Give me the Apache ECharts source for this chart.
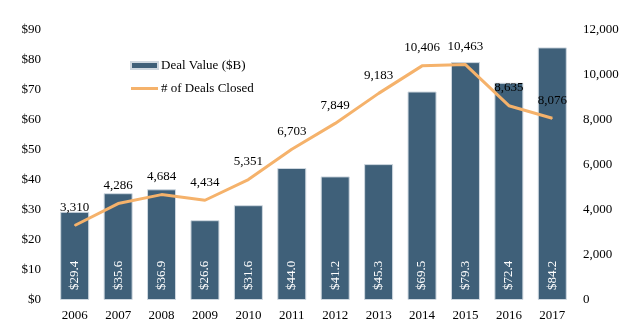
<!DOCTYPE html>
<html><head><meta charset="utf-8">
<script src="https://cdn.jsdelivr.net/npm/echarts@6/dist/echarts.min.js"></script>
<style>html,body{margin:0;padding:0;background:#fff}#c{width:630px;height:327px}</style>
</head><body><div id="c"></div>
<script>
var years = ['2006','2007','2008','2009','2010','2011','2012','2013','2014','2015','2016','2017'];
var dealValue = [29.4, 35.6, 36.9, 26.6, 31.6, 44.0, 41.2, 45.3, 69.5, 79.3, 72.4, 84.2];
var dealsClosed = [3310, 4286, 4684, 4434, 5351, 6703, 7849, 9183, 10406, 10463, 8635, 8076];
var font = 'Liberation Serif, Times New Roman, serif';
var chart = echarts.init(document.getElementById('c'));
chart.setOption({
  animation: false,
  backgroundColor: '#fff',
  textStyle: {fontFamily: font},
  grid: {left: 53, right: 56, top: 30, bottom: 27},
  legend: {
    orient: 'vertical', left: 125, top: 54, itemGap: 10,
    itemWidth: 27, itemHeight: 7,
    textStyle: {fontFamily: font, fontSize: 13, color: '#000', padding: [0, 0, 0, -2]},
    data: [
      {name: 'Deal Value ($B)', icon: 'rect'},
      {name: '# of Deals Closed', icon: 'path://M0,0 L27,0 L27,3 L0,3 Z', itemStyle: {color: '#f5b26b', borderWidth: 0}}
    ]
  },
  xAxis: {
    type: 'category', data: years,
    axisLine: {show: false}, axisTick: {show: false},
    axisLabel: {fontFamily: font, fontSize: 13, color: '#000', margin: 9}
  },
  yAxis: [{
    type: 'value', min: 0, max: 90, interval: 10,
    splitLine: {show: false},
    axisLabel: {fontFamily: font, fontSize: 13, color: '#000', margin: 12, formatter: function(v){return '$' + v;}}
  }, {
    type: 'value', min: 0, max: 12000, interval: 2000,
    splitLine: {show: false},
    axisLabel: {fontFamily: font, fontSize: 13, color: '#000', margin: 9, formatter: function(v){return v.toLocaleString('en-US');}}
  }],
  series: [{
    name: 'Deal Value ($B)', type: 'bar', data: dealValue, yAxisIndex: 0,
    barWidth: 29,
    itemStyle: {color: '#3f6079', borderColor: '#cfd8e0', borderWidth: 1},
    label: {
      show: true, position: 'insideBottom', rotate: 90, align: 'left', verticalAlign: 'middle',
      distance: 10, color: '#fff', fontFamily: font, fontSize: 13,
      formatter: function(p){return '$' + p.value.toFixed(1);}
    }
  }, {
    name: '# of Deals Closed', type: 'line', data: dealsClosed, yAxisIndex: 1,
    symbol: 'circle', symbolSize: 1, showSymbol: true,
    lineStyle: {color: '#f5b26b', width: 3}, itemStyle: {color: '#f5b26b'},
    label: {
      show: true, position: 'top', distance: 11, color: '#000', fontFamily: font, fontSize: 13,
      formatter: function(p){return p.value.toLocaleString('en-US');}
    }
  }]
});
</script></body></html>
